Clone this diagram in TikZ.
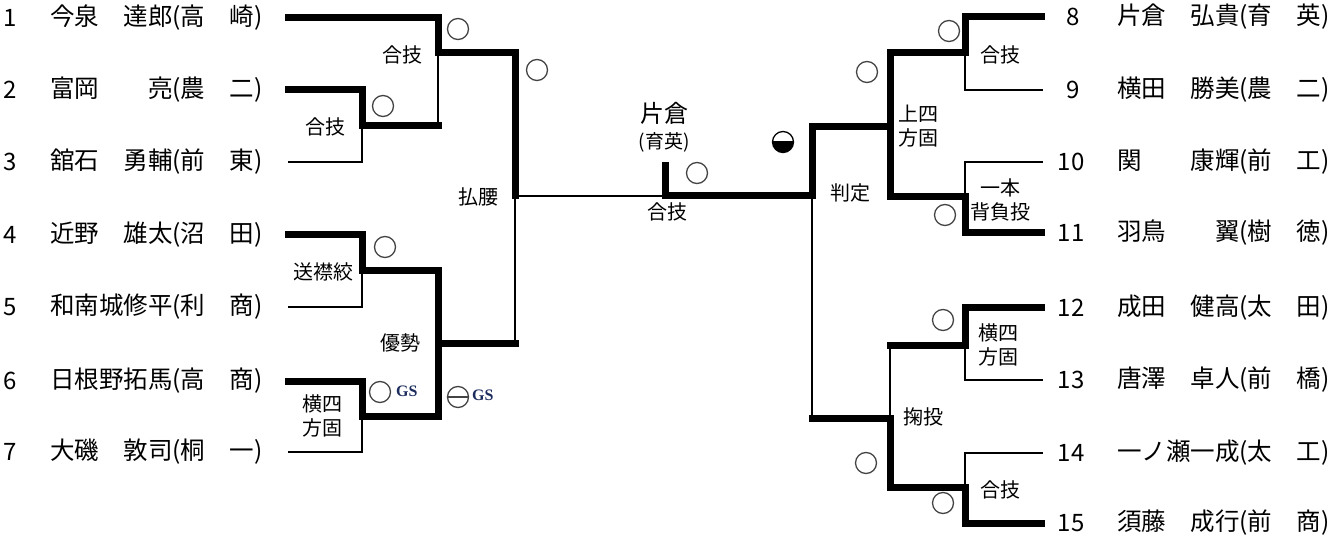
\documentclass[tikz,border=0pt]{standalone}
\usepackage{fontspec}
\setmainfont{Noto Sans CJK JP}
\newfontfamily\gsfont{Liberation Serif}
\definecolor{gsblue}{HTML}{1C2C5C}
\definecolor{mkgray}{HTML}{444444}
\begin{document}
\begin{tikzpicture}[x=1pt,y=-1pt,
  thk/.style={line width=7pt, line cap=rect, line join=miter},
  thn/.style={line width=2pt, line cap=rect},
  nm/.style={anchor=west, inner sep=0pt, font=\fontsize{24.5}{28}\selectfont},
  num/.style={anchor=center, inner sep=0pt, font=\fontsize{24}{28}\selectfont},
  lab/.style={align=center, inner sep=0pt, font=\fontsize{20}{24}\selectfont},
  mk/.style={circle, draw=mkgray, line width=1.3pt, minimum size=21pt, inner sep=0pt},
  gs/.style={font=\gsfont\bfseries\fontsize{16}{18}\selectfont, text=gsblue, inner sep=0pt, anchor=west}]
\useasboundingbox (0,0) rectangle (1344,537);

% ---------- player names (left) ----------
\node[num] (n1) at (10,18) {1};  \node[nm] (p1) at (50,18) {今泉　達郎(高　崎)};
\node[num] (n2) at (10,90) {2};  \node[nm] (p2) at (50,90) {富岡　　亮(農　二)};
\node[num] (n3) at (10,162) {3}; \node[nm] (p3) at (50,162) {舘石　勇輔(前　東)};
\node[num] (n4) at (10,235) {4}; \node[nm] (p4) at (50,235) {近野　雄太(沼　田)};
\node[num] (n5) at (10,307) {5}; \node[nm] (p5) at (50,307) {和南城修平(利　商)};
\node[num] (n6) at (10,381) {6}; \node[nm] (p6) at (50,381) {日根野拓馬(高　商)};
\node[num] (n7) at (10,452) {7}; \node[nm] (p7) at (50,452) {大磯　敦司(桐　一)};
% ---------- player names (right) ----------
\node[num] (n8) at (1073,17) {8};    \node[nm] (p8) at (1117,17) {片倉　弘貴(育　英)};
\node[num] (n9) at (1073,90) {9};    \node[nm] (p9) at (1117,90) {横田　勝美(農　二)};
\node[num] (n10) at (1071,162) {10}; \node[nm] (p10) at (1117,162) {関　　康輝(前　工)};
\node[num] (n11) at (1071,233) {11}; \node[nm] (p11) at (1117,233) {羽鳥　　翼(樹　徳)};
\node[num] (n12) at (1071,308) {12}; \node[nm] (p12) at (1117,308) {成田　健高(太　田)};
\node[num] (n13) at (1071,380) {13}; \node[nm] (p13) at (1117,380) {唐澤　卓人(前　橋)};
\node[num] (n14) at (1071,453) {14}; \node[nm] (p14) at (1117,453) {一ノ瀬一成(太　工)};
\node[num] (n15) at (1071,523) {15}; \node[nm] (p15) at (1117,523) {須藤　成行(前　商)};

% ---------- bracket coordinates (left) ----------
\coordinate (a1) at (288.5,18);  \coordinate (a2) at (288.5,90);
\coordinate (a3) at (288.5,162); \coordinate (a4) at (288.5,235);
\coordinate (a5) at (288.5,307); \coordinate (a6) at (288.5,381);
\coordinate (a7) at (288.5,452);
\coordinate (ja) at (438,53);    \coordinate (jb) at (362,126);
\coordinate (jc) at (362,271);   \coordinate (jd) at (362,416);
\coordinate (je) at (438,343);   \coordinate (jf) at (515,196);
\coordinate (top) at (665,165.5); \coordinate (fin) at (665,196);
% ---------- bracket coordinates (right) ----------
\coordinate (b8) at (1041.5,17);   \coordinate (b9) at (1041.5,90);
\coordinate (b10) at (1041.5,162); \coordinate (b11) at (1041.5,233);
\coordinate (b12) at (1041.5,308); \coordinate (b13) at (1041.5,380);
\coordinate (b14) at (1041.5,453); \coordinate (b15) at (1041.5,523);
\coordinate (ka) at (965,53);   \coordinate (kb) at (965,197);
\coordinate (kc) at (965,345);  \coordinate (kd) at (965,487);
\coordinate (ke) at (890,127);  \coordinate (kf) at (890,418);
\coordinate (kg) at (812,196);

% ---------- left bracket ----------
\draw[thn] (a3) -| (jb);
\draw[thn] (438,126) -- (ja);
\draw[thn] (a5) -| (jc);
\draw[thn] (a7) -| (jd);
\draw[thn] (515,343) -- (jf) -- (fin);
\draw[thk] (a1) -| (ja) -- (515,53) -- (jf);
\draw[thk] (a2) -| (jb) -- (438,126);
\draw[thk] (a4) -| (jc) -| (je);
\draw[thk] (a6) -| (jd) -| (je) -- (515,343);

% ---------- right bracket ----------
\draw[thn] (b9) -| (ka);
\draw[thn] (b10) -| (kb);
\draw[thn] (b13) -| (kc);
\draw[thn] (b14) -| (kd);
\draw[thn] (890,345) -- (kf);
\draw[thn] (812,418) -- (kg);
\draw[thk] (b8) -| (ka) -- (890,53) -- (ke) -- (812,127) -- (kg) -- (fin) -- (top);
\draw[thk] (b11) -| (kb) -- (890,197) -- (ke);
\draw[thk] (b12) -| (kc) -- (890,345);
\draw[thk] (b15) -| (kd) -- (890,487) -- (kf) -- (812,418);

% ---------- technique labels ----------
\node[lab] (t1) at (402,55) {合技};
\node[lab] (t2) at (325,127) {合技};
\node[lab] (t3) at (478,197) {払腰};
\node[lab] (t4) at (323,272) {送襟絞};
\node[lab] (t5) at (400,343) {優勢};
\node[lab] (t6) at (322,416) {横四\\方固};
\node[lab] (t7) at (667,212) {合技};
\node[lab] (t8) at (850,193) {判定};
\node[lab] (t9) at (1000,55) {合技};
\node[lab] (t10) at (918,126) {上四\\方固};
\node[lab] (t11) at (1000,200) {一本\\背負投};
\node[lab] (t12) at (998,345) {横四\\方固};
\node[lab] (t13) at (923,417) {掬投};
\node[lab] (t14) at (1000,490) {合技};

% ---------- champion ----------
\node[inner sep=0pt, font=\fontsize{24}{28}\selectfont] (ch) at (664,113) {片倉};
\node[inner sep=0pt, font=\fontsize{19}{22}\selectfont] (chs) at (664,142) {(育英)};

% ---------- result marks ----------
\node[mk] (m1) at (458,29) {};
\node[mk] (m2) at (383,106) {};
\node[mk] (m3) at (537,70) {};
\node[mk] (m4) at (385,247) {};
\node[mk] (m5) at (380,392) {};
\node[gs] (g5) at (396,391) {GS};
\node[mk] (m6) at (458,397) {};
\draw[mkgray, line width=1.3pt] (m6.west) -- (m6.east);
\node[gs] (g6) at (472,395) {GS};
\node[mk] (m7) at (697,173) {};
\begin{scope}
  \clip (770,142) rectangle (796,156);
  \fill[black] (783,142) circle[radius=10.5pt];
\end{scope}
\node[mk, draw=black] (m8) at (783,142) {};
\node[mk] (m9) at (949,31) {};
\node[mk] (m10) at (867,72) {};
\node[mk] (m11) at (945,215) {};
\node[mk] (m12) at (943,320) {};
\node[mk] (m13) at (866,463) {};
\node[mk] (m14) at (943,503) {};
\end{tikzpicture}
\end{document}
